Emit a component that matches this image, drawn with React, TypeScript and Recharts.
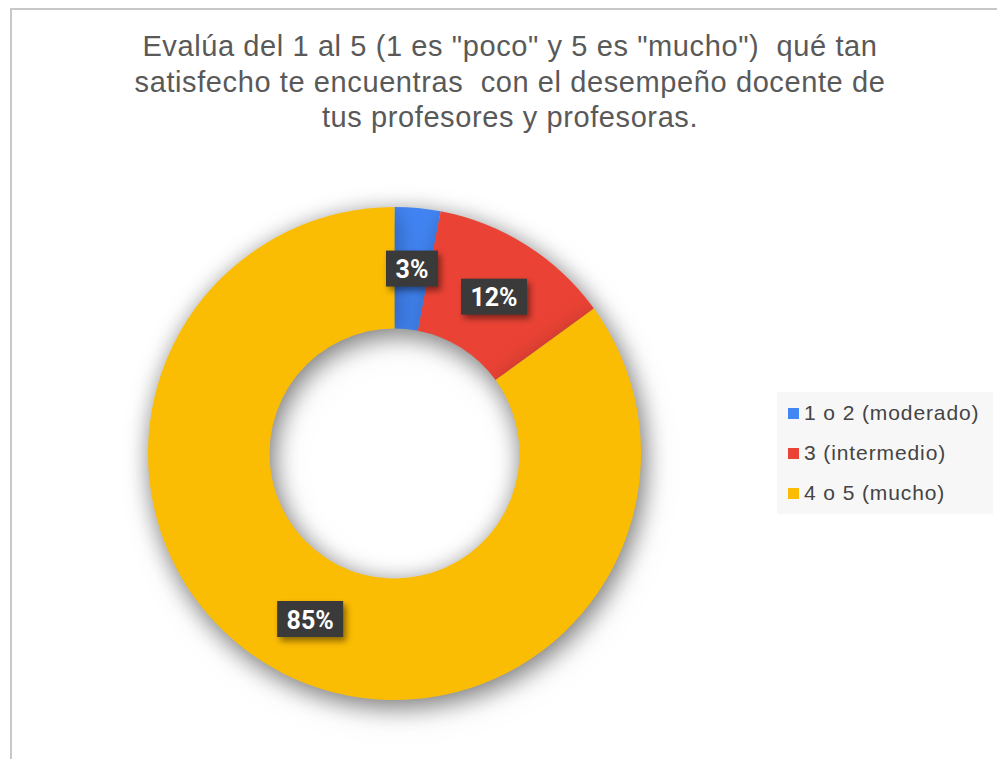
import React from "react";
import { Cell, Legend, Pie, PieChart } from "recharts";

const titleLines = [
  'Evalúa del 1 al 5 (1 es "poco" y 5 es "mucho")  qué tan',
  "satisfecho te encuentras  con el desempeño docente de",
  "tus profesores y profesoras.",
];
const categories = ["1 o 2 (moderado)", "3 (intermedio)", "4 o 5 (mucho)"];
const shares = [3, 12, 85];
const colors = ["#4285F4", "#EA4335", "#FBBC04"];

const data = categories.map((name, i) => ({ name, value: shares[i] }));

const RAD = Math.PI / 180;

function BoxLabel(props: any) {
  const { cx, cy, midAngle, innerRadius, outerRadius, percent } = props;
  const r = (innerRadius + outerRadius) / 2;
  const x = cx + r * Math.cos(-midAngle * RAD);
  const y = cy + r * Math.sin(-midAngle * RAD);
  const text = `${Math.round(percent * 100)}%`;
  const w = text.length * 14 + 24;
  return (
    <g>
      <rect
        x={x - w / 2}
        y={y - 18}
        width={w}
        height={36}
        fill="#3a3a3a"
        style={{ filter: "drop-shadow(3px 4px 3px rgba(0,0,0,0.45))" }}
      />
      <text
        x={x}
        y={y + 1}
        fill="#ffffff"
        textAnchor="middle"
        dominantBaseline="central"
        fontFamily="'Liberation Sans Narrow', Roboto, sans-serif"
        fontWeight={700}
        fontSize={25}
      >
        {text}
      </text>
    </g>
  );
}

function LegendBox(props: any) {
  const seen = new Set<string>();
  const items = (props.payload || []).filter((p: any) => {
    if (seen.has(p.value)) return false;
    seen.add(p.value);
    return true;
  });
  return (
    <div
      style={{
        background: "#f7f7f7",
        width: 216,
        height: 122,
        boxSizing: "border-box",
        padding: "1px 0 0 11px",
        fontFamily: "'Liberation Sans', Arial, sans-serif",
        fontSize: 21,
        letterSpacing: 0.9,
        color: "#444444",
      }}
    >
      {items.map((p: any) => (
        <div key={p.value} style={{ display: "flex", alignItems: "center", height: 40 }}>
          <span style={{ display: "inline-block", width: 11, height: 11, background: p.color, marginRight: 5 }} />
          <span>{p.value}</span>
        </div>
      ))}
    </div>
  );
}

export default function App() {
  return (
    <div style={{ position: "absolute", left: 0, top: 0, width: 997, height: 759, overflow: "hidden", background: "#fff" }}>
      <style>{`.donut-base { filter: drop-shadow(3px 6px 12px rgba(0,0,0,0.3)); }`}</style>
      <div
        style={{
          position: "absolute",
          left: 10,
          top: 8,
          width: 1100,
          height: 900,
          borderLeft: "2px solid #c8c8c8",
          borderTop: "2px solid #c8c8c8",
        }}
      />
      <div
        style={{
          position: "absolute",
          left: 0,
          top: 29,
          width: 1020,
          textAlign: "center",
          fontFamily: "'Liberation Sans', Arial, sans-serif",
          fontSize: 29,
          lineHeight: "35.5px",
          letterSpacing: 0.6,
          color: "#595959",
          whiteSpace: "pre",
        }}
      >
        {titleLines.map((t) => (
          <div key={t}>{t}</div>
        ))}
      </div>
      <div style={{ position: "absolute", left: 0, top: 0 }}>
        <PieChart width={997} height={759} margin={{ top: 0, right: 0, bottom: 0, left: 0 }}>
          <Pie
            className="donut-base"
            data={data}
            dataKey="value"
            nameKey="name"
            cx={394.5}
            cy={453.5}
            innerRadius={125}
            outerRadius={246.5}
            startAngle={90}
            endAngle={-270}
            stroke="none"
            label={false}
            labelLine={false}
            isAnimationActive={false}
          >
            {data.map((d, i) => (
              <Cell key={d.name} fill={colors[i]} />
            ))}
          </Pie>
          <Pie
            data={data}
            dataKey="value"
            nameKey="name"
            cx={394.5}
            cy={453.5}
            innerRadius={125}
            outerRadius={246.5}
            startAngle={90}
            endAngle={-270}
            stroke="none"
            fill="transparent"
            fillOpacity={0}
            legendType="none"
            label={BoxLabel}
            labelLine={false}
            isAnimationActive={false}
          />
          <Legend
            content={LegendBox}
            wrapperStyle={{ position: "absolute", left: 777, top: 392, width: 216, height: 122 }}
          />
        </PieChart>
      </div>
    </div>
  );
}
